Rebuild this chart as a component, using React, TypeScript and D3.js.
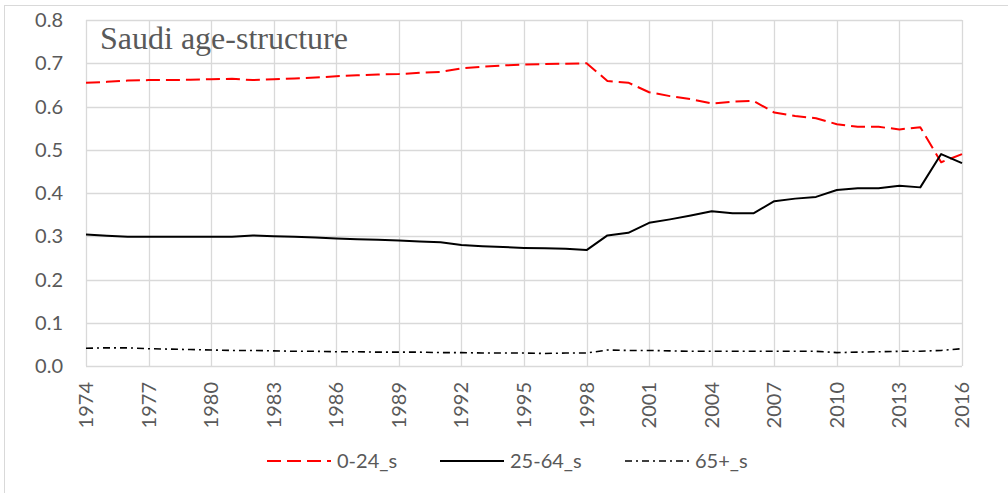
import { useRef, useEffect } from "react";
import * as d3 from "d3";

const years = d3.range(1974, 2017);

// 0-24 share
const young = [
  0.655, 0.657, 0.66, 0.661, 0.661, 0.662, 0.663, 0.664, 0.661, 0.663, 0.665,
  0.667, 0.67, 0.672, 0.674, 0.675, 0.678, 0.68, 0.688, 0.692, 0.695, 0.697,
  0.698, 0.699, 0.7, 0.659, 0.655, 0.633, 0.624, 0.617, 0.607, 0.611, 0.613,
  0.586, 0.578, 0.573, 0.559, 0.553, 0.553, 0.547, 0.552, 0.471, 0.49,
];

// 25-64 share
const working = [
  0.304, 0.301, 0.299, 0.299, 0.299, 0.299, 0.299, 0.299, 0.302, 0.3, 0.299,
  0.297, 0.295, 0.293, 0.292, 0.29, 0.288, 0.286, 0.28, 0.277, 0.275, 0.273,
  0.272, 0.271, 0.268, 0.302, 0.308, 0.331, 0.339, 0.348, 0.358, 0.353, 0.353,
  0.381, 0.387, 0.391, 0.407, 0.411, 0.411, 0.417, 0.413, 0.49, 0.469,
];

// 65+ share
const old = [
  0.041, 0.042, 0.042, 0.04, 0.039, 0.038, 0.037, 0.036, 0.036, 0.035, 0.034,
  0.034, 0.033, 0.033, 0.032, 0.032, 0.032, 0.031, 0.031, 0.03, 0.03, 0.03,
  0.029, 0.03, 0.03, 0.037, 0.036, 0.036, 0.035, 0.034, 0.034, 0.034, 0.034,
  0.034, 0.034, 0.034, 0.031, 0.032, 0.033, 0.034, 0.034, 0.036, 0.04,
];

const yTicks = [0, 0.1, 0.2, 0.3, 0.4, 0.5, 0.6, 0.7, 0.8];
const xTicks = d3.range(1974, 2017, 3);

const series = [
  { name: "0-24_s", values: young, color: "#ff0000", dash: "14,6", width: 2 },
  { name: "25-64_s", values: working, color: "#000000", dash: "", width: 2 },
  { name: "65+_s", values: old, color: "#000000", dash: "7,4,2,4", width: 1.6 },
];

const W = 1008;
const H = 493;
const margin = { left: 86, right: 46, top: 20, bottom: 127 };
const font = "Lato, 'Open Sans', sans-serif";
const grey = "#595959";

const App = () => {
  const ref = useRef<SVGSVGElement>(null);

  useEffect(() => {
    const svg = d3.select(ref.current);
    svg.selectAll("*").remove();

    const x = d3
      .scaleLinear()
      .domain([1974, 2016])
      .range([margin.left, W - margin.right]);
    const y = d3
      .scaleLinear()
      .domain([0, 0.8])
      .range([H - margin.bottom, margin.top]);

    svg
      .append("rect")
      .attr("x", 4.5)
      .attr("y", 5.5)
      .attr("width", W + 20)
      .attr("height", H + 20)
      .attr("fill", "#fff")
      .attr("stroke", "#d9d9d9");

    const grid = svg.append("g").attr("stroke", "#d9d9d9").attr("stroke-width", 1.3);
    grid
      .selectAll("line.h")
      .data(yTicks)
      .enter()
      .append("line")
      .attr("x1", x(1974))
      .attr("x2", x(2016))
      .attr("y1", (d) => Math.round(y(d)) + 0.5)
      .attr("y2", (d) => Math.round(y(d)) + 0.5);
    grid
      .selectAll("line.v")
      .data(xTicks)
      .enter()
      .append("line")
      .attr("x1", (d) => Math.round(x(d)) + 0.5)
      .attr("x2", (d) => Math.round(x(d)) + 0.5)
      .attr("y1", y(0.8))
      .attr("y2", y(0));

    svg
      .append("text")
      .attr("x", 100)
      .attr("y", 49)
      .attr("font-family", "'Liberation Serif', 'Times New Roman', serif")
      .attr("font-size", 32)
      .attr("fill", grey)
      .text("Saudi age-structure");

    svg
      .append("g")
      .selectAll("text")
      .data(yTicks)
      .enter()
      .append("text")
      .attr("x", 63)
      .attr("y", (d) => y(d))
      .attr("dy", "0.35em")
      .attr("text-anchor", "end")
      .attr("font-family", font)
      .attr("font-size", 20)
      .attr("fill", grey)
      .text((d) => d3.format(".1f")(d));

    svg
      .append("g")
      .selectAll("text")
      .data(xTicks)
      .enter()
      .append("text")
      .attr("transform", (d) => `translate(${x(d)},${y(0) + 16}) rotate(-90)`)
      .attr("dy", "0.35em")
      .attr("text-anchor", "end")
      .attr("font-family", font)
      .attr("font-size", 20)
      .attr("fill", grey)
      .text((d) => d);

    const line = d3
      .line<number>()
      .x((_, i) => x(years[i]))
      .y((d) => y(d));

    svg
      .append("g")
      .selectAll("path")
      .data(series)
      .enter()
      .append("path")
      .attr("d", (s) => line(s.values))
      .attr("fill", "none")
      .attr("stroke", (s) => s.color)
      .attr("stroke-width", (s) => s.width)
      .attr("stroke-dasharray", (s) => s.dash)
      .attr("stroke-linejoin", "round");

    const legendX = [267, 440, 625];
    const legend = svg
      .append("g")
      .selectAll("g")
      .data(series)
      .enter()
      .append("g")
      .attr("transform", (_, i) => `translate(${legendX[i]},461)`);
    legend
      .append("line")
      .attr("x1", 0)
      .attr("x2", 64)
      .attr("stroke", (s) => s.color)
      .attr("stroke-width", (s) => s.width)
      .attr("stroke-dasharray", (s) => s.dash);
    legend
      .append("text")
      .attr("x", 70)
      .attr("dy", "0.35em")
      .attr("font-family", font)
      .attr("font-size", 20)
      .attr("fill", grey)
      .text((s) => s.name);
  }, []);

  return (
    <div style={{ position: "fixed", left: 0, top: 0 }}>
      <svg ref={ref} width={W} height={H} style={{ display: "block" }} />
    </div>
  );
};

export default App;
